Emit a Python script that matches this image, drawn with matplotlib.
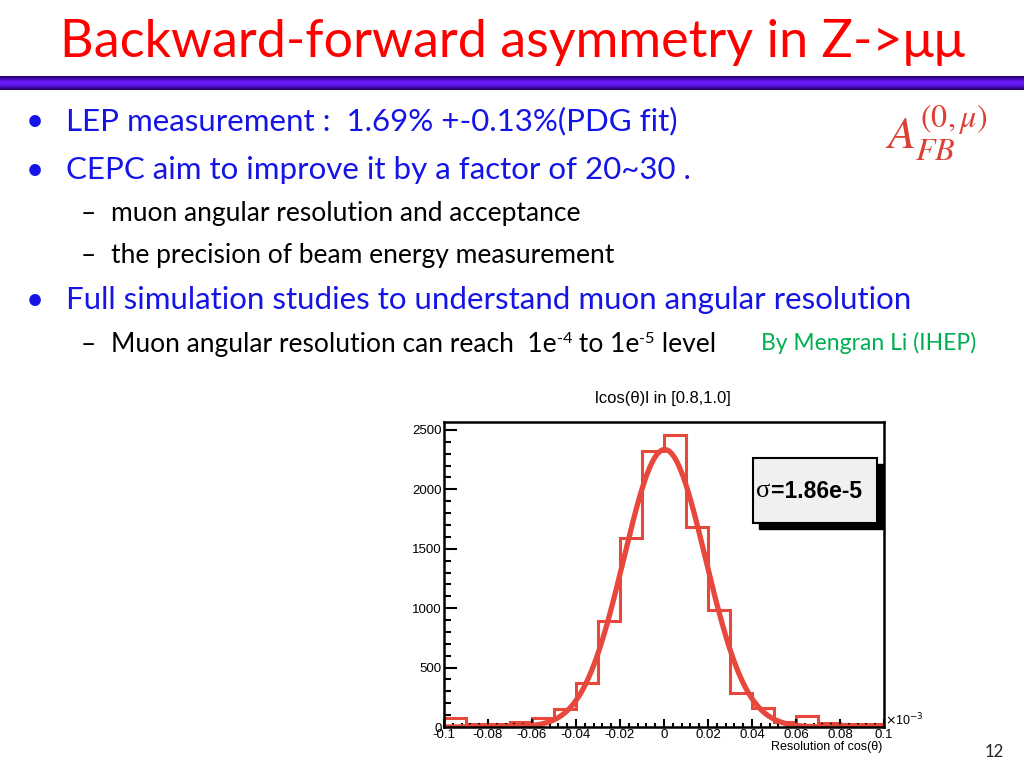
import numpy as np
import matplotlib.pyplot as plt
from matplotlib.patches import Rectangle
from matplotlib.colors import LinearSegmentedColormap

# slide text
title = "Backward-forward asymmetry in Z->μμ"
bullets = ["LEP measurement :  1.69% +-0.13%(PDG fit)",
           "CEPC aim to improve it by a factor of 20~30 ."]
sub_bullets = ["muon angular resolution and acceptance",
               "the precision of beam energy measurement"]
bullet3 = "Full simulation studies to understand muon angular resolution"
# (text, is_superscript) runs of the last sub bullet
sub3_runs = [("Muon angular resolution can reach  1e", False), ("-4", True),
             (" to 1e", False), ("-5", True), (" level", False)]
credit = "By Mengran Li (IHEP)"
page_no = "12"

# histogram of cos(theta) resolution (x axis in units of 1e-3)
bin_edges = [-0.1, -0.09, -0.08, -0.07, -0.06, -0.05, -0.04, -0.03, -0.02, -0.01, 0.0,
             0.01, 0.02, 0.03, 0.04, 0.05, 0.06, 0.07, 0.08, 0.09, 0.1]
counts = [79, 28, 25, 45, 79, 155, 370, 893, 1593, 2327,
          2460, 1684, 983, 285, 164, 45, 92, 37, 28, 22]

# gaussian fit parameters
fit_amp = 2335
fit_mean = 0.0003
fit_sigma = 0.0186

x_ticks = [-0.1, -0.08, -0.06, -0.04, -0.02, 0, 0.02, 0.04, 0.06, 0.08, 0.1]
x_ticklabels = ["-0.1", "-0.08", "-0.06", "-0.04", "-0.02", "0", "0.02", "0.04", "0.06", "0.08", "0.1"]
y_ticks = [0, 500, 1000, 1500, 2000, 2500]

RED = "#e8473b"
BLUE = "#1414e6"
SLIDE_FONT = ["Lato", "DejaVu Sans"]
ROOT_FONT = ["Liberation Sans", "DejaVu Sans"]

W, H = 1024, 768
fig = plt.figure(figsize=(W / 100, H / 100), dpi=100)
renderer = fig.canvas.get_renderer()


def fx(px):
    return px / W


def fy(py):
    return 1 - py / H


# title + purple bar
fig.text(fx(512), fy(42), title, color="#ff0000", fontsize=37.5, family=SLIDE_FONT,
         ha="center", va="center")
bar_ax = fig.add_axes([0, fy(90), 1, 14 / H])
grad = np.array([0.0, 0.5, 0.85, 1.0, 0.85, 0.5, 0.0]).reshape(-1, 1)
cmap = LinearSegmentedColormap.from_list("bar", ["#2a006e", "#6a1aff"])
bar_ax.imshow(grad, aspect="auto", cmap=cmap, interpolation="bilinear")
bar_ax.axis("off")

# bullets
BSIZE, SSIZE = 22.5, 19
for i, txt in enumerate(bullets):
    y = 121 + i * 49
    fig.text(fx(35), fy(y), "•", color=BLUE, fontsize=BSIZE, family=SLIDE_FONT, ha="center", va="center")
    fig.text(fx(66), fy(y), txt, color=BLUE, fontsize=BSIZE, family=SLIDE_FONT, va="center")
for i, txt in enumerate(sub_bullets):
    y = 213 + i * 42
    fig.text(fx(88), fy(y), "–", color="black", fontsize=SSIZE, family=SLIDE_FONT, ha="center", va="center")
    fig.text(fx(111), fy(y), txt, color="black", fontsize=SSIZE, family=SLIDE_FONT, va="center")
fig.text(fx(35), fy(300), "•", color=BLUE, fontsize=BSIZE, family=SLIDE_FONT, ha="center", va="center")
fig.text(fx(66), fy(300), bullet3, color=BLUE, fontsize=BSIZE, family=SLIDE_FONT, va="center")
fig.text(fx(88), fy(344), "–", color="black", fontsize=SSIZE, family=SLIDE_FONT, ha="center", va="center")

# last sub bullet, drawn run by run so the exponents sit raised and small
xpos = 111
for txt, sup in sub3_runs:
    if sup:
        t = fig.text(fx(xpos), fy(343), txt, color="black", fontsize=SSIZE * 0.62,
                     family=SLIDE_FONT, va="baseline")
    else:
        t = fig.text(fx(xpos), fy(352), txt, color="black", fontsize=SSIZE,
                     family=SLIDE_FONT, va="baseline")
    xpos += t.get_window_extent(renderer).width

fig.text(fx(761), fy(343), credit, color="#00b050", fontsize=16.5, family=SLIDE_FONT, va="center")

fig.text(fx(936), fy(133), r"$A_{FB}^{(0,\mu)}$", color="#dd3f33", fontsize=33,
         ha="center", va="center", math_fontfamily="stix")

fig.text(fx(994), fy(752), page_no, color="#222222", fontsize=12, family=SLIDE_FONT,
         ha="center", va="center")

# histogram panel
ax = fig.add_axes([fx(444), fy(727), 440 / W, 305 / H])
ax.stairs(counts, bin_edges, color=RED, lw=2.2, baseline=0)
xf = np.linspace(bin_edges[0], bin_edges[-1], 500)
ax.plot(xf, fit_amp * np.exp(-0.5 * ((xf - fit_mean) / fit_sigma) ** 2), color=RED, lw=3.8)
ax.set_xlim(-0.1, 0.1)
ax.set_ylim(0, 2567)

ax.set_xticks(x_ticks)
ax.set_xticklabels(x_ticklabels)
ax.set_xticks(np.arange(-0.1, 0.1001, 0.004), minor=True)
ax.set_yticks(y_ticks)
ax.set_yticklabels([str(v) for v in y_ticks])
ax.set_yticks(np.arange(0, 2567, 100), minor=True)
ax.tick_params(which="both", direction="in", width=1.5, top=False, right=False)
ax.tick_params(axis="x", which="major", length=6, pad=1.5, labelsize=9.5)
ax.tick_params(axis="x", which="minor", length=3)
ax.tick_params(axis="y", which="major", length=9, pad=1.5, labelsize=9.5)
ax.tick_params(axis="y", which="minor", length=5)
for lab in ax.get_xticklabels() + ax.get_yticklabels():
    lab.set_family(ROOT_FONT)
for sp in ax.spines.values():
    sp.set_linewidth(1.8)

fig.text(fx(663), fy(398), "lcos(θ)l in [0.8,1.0]", fontsize=12, family=ROOT_FONT,
         ha="center", va="center")
fig.text(fx(885), fy(720), r"$\times$10$^{-3}$", fontsize=9, family=ROOT_FONT, va="center")
fig.text(fx(882), fy(747), "Resolution of cos(θ)", fontsize=9, family=ROOT_FONT,
         ha="right", va="center")

# sigma box with shadow
fig.patches.append(Rectangle((fx(759), fy(529)), 124 / W, 65 / H, transform=fig.transFigure,
                             facecolor="black", edgecolor="black", zorder=5))
fig.patches.append(Rectangle((fx(753), fy(523)), 124 / W, 65 / H, transform=fig.transFigure,
                             facecolor="#f0f0f0", edgecolor="black", lw=1.5, zorder=6))
fig.text(fx(756), fy(491), "σ", fontsize=19, family=["Liberation Serif"], va="center", zorder=7)
fig.text(fx(771), fy(491), "=1.86e-5", fontsize=16.5, family=ROOT_FONT, weight="bold",
         va="center", zorder=7)

fig.savefig("out.png", dpi=100)
